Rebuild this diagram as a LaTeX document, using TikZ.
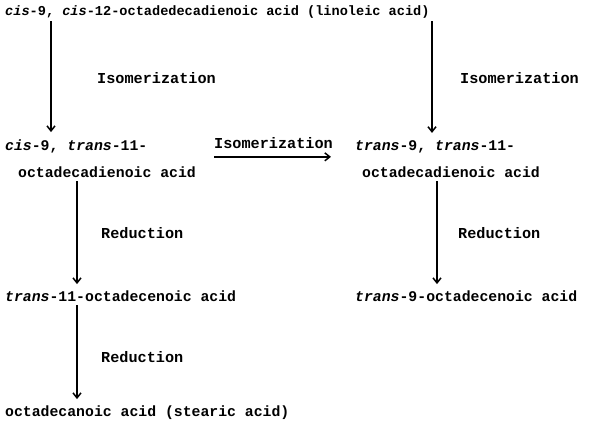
\documentclass[tikz,border=0pt]{standalone}
\usepackage{fontspec}
\setmonofont{Liberation Mono}
\usetikzlibrary{arrows.meta}
\tikzset{
  acid/.style={anchor=base west,inner sep=0pt,font=\ttfamily\bfseries\fontsize{14.8}{16}\selectfont},
  step label/.style={anchor=base west,inner sep=0pt,font=\ttfamily\bfseries\fontsize{15.2}{16}\selectfont},
  react/.style={line width=1.6pt,-{Straight Barb[length=5pt,width=8pt,line width=1.5pt]}}
}
\begin{document}
\begin{tikzpicture}[x=1pt,y=-1pt]
                \useasboundingbox (0,0) rectangle (589,426);
                \node[acid,font=\ttfamily\bfseries\fontsize{13.6}{16}\selectfont] (lin) at (5,15) {\textit{cis}-9, \textit{cis}-12-octadedecadienoic acid (linoleic acid)};
                \node[acid] (ct1) at (5,150) {\textit{cis}-9, \textit{trans}-11-};
                \node[acid] (ct2) at (18,177) {octadecadienoic acid};
                \node[acid] (tt1) at (355,150) {\textit{trans}-9, \textit{trans}-11-};
                \node[acid] (tt2) at (362,177) {octadecadienoic acid};
                \node[acid] (t11) at (5,301) {\textit{trans}-11-octadecenoic acid};
                \node[acid] (t9) at (355,301) {\textit{trans}-9-octadecenoic acid};
                \node[acid] (ste) at (5,416) {octadecanoic acid (stearic acid)};

                \node[step label] (iso1) at (97,83) {Isomerization};
                \node[step label] (iso2) at (460,83) {Isomerization};
                \node[step label] (iso3) at (214,148) {Isomerization};
                \node[step label] (red1) at (101,238) {Reduction};
                \node[step label] (red2) at (458,238) {Reduction};
                \node[step label] (red3) at (101,362) {Reduction};

                \draw[react] ([xshift=46pt,yshift=-3pt]lin.south west) -- ([xshift=46pt,yshift=7pt]ct1.north west);
                \draw[react] ([xshift=427pt,yshift=-3pt]lin.south west) -- ([xshift=77pt,yshift=7pt]tt1.north west);
                \draw[react] ([yshift=-8.5pt]iso3.south west) -- ([xshift=-2pt,yshift=-8.5pt]iso3.south east);
                \draw[react] ([xshift=59pt,yshift=-4pt]ct2.south west) -- ([xshift=72pt,yshift=6pt]t11.north west);
                \draw[react] ([xshift=75pt,yshift=-4pt]tt2.south west) -- ([xshift=82pt,yshift=6pt]t9.north west);
                \draw[react] ([xshift=72pt,yshift=-4pt]t11.south west) -- ([xshift=72pt,yshift=6pt]ste.north west);
            \end{tikzpicture}
\end{document}
